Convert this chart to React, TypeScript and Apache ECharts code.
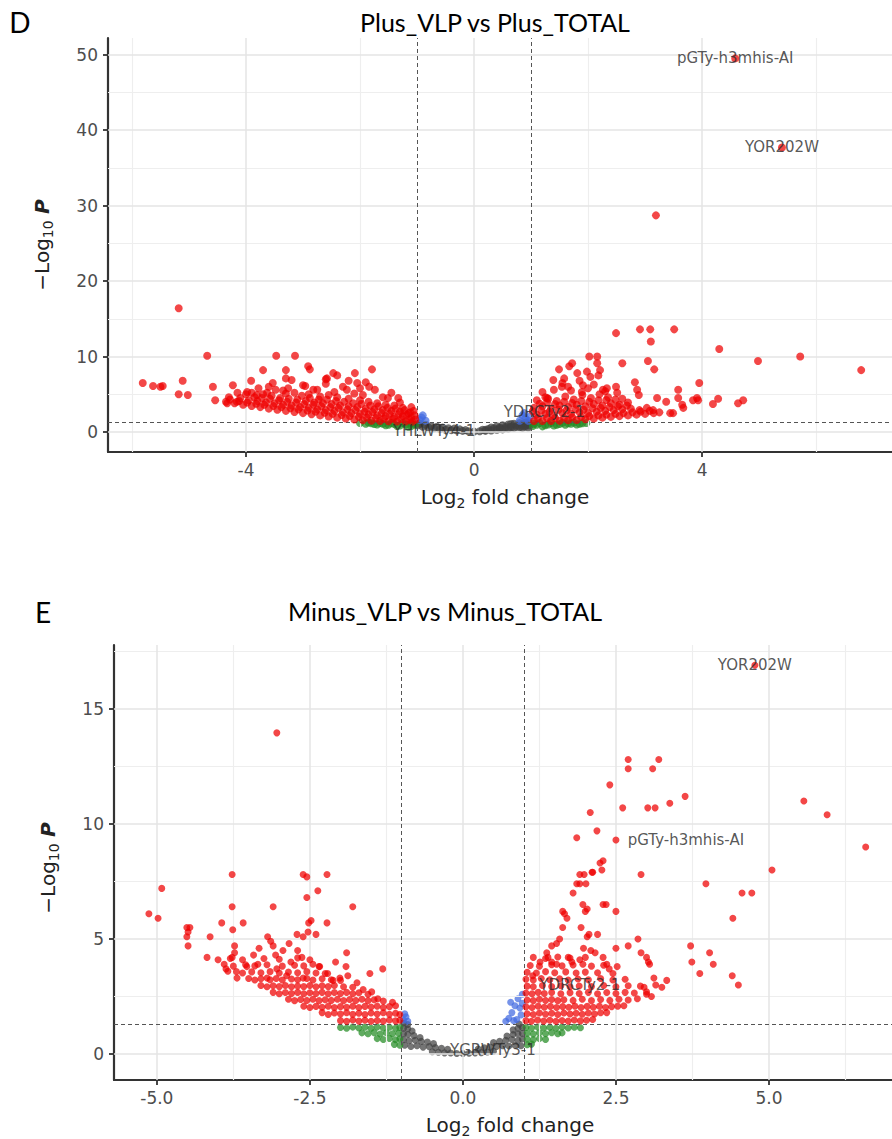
import React, { useEffect, useRef } from "react";
import * as echarts from "echarts";

type Pt = [number, number];

// ---------------- Panel D : Plus_VLP vs Plus_TOTAL ----------------
const D_X_MAJOR = [-4, 0, 4];
const D_X_MINOR = [-6, -2, 2, 6];
const D_Y_MAJOR = [0, 10, 20, 30, 40, 50];
const D_Y_MINOR = [5, 15, 25, 35, 45];

const D_RED: Pt[] = [
  [-5.18, 16.4], [-4.68, 10.1], [-5.81, 6.5], [-5.63, 6.1], [-5.5, 6.0], [-5.46, 6.1], [-5.11, 6.8], [-5.18, 5.0],
  [-5.02, 4.9], [-4.58, 6.0], [-4.54, 4.2], [-4.23, 6.2], [-3.91, 6.8], [-3.7, 8.2], [-3.47, 10.1], [-3.14, 10.1],
  [-3.3, 8.2], [-3.3, 7.1], [-2.91, 8.7], [-2.88, 8.3], [-3.53, 6.5], [-3.26, 5.8], [-2.96, 6.1], [-2.58, 7.1],
  [-2.47, 7.8], [-2.4, 7.5], [-2.09, 7.8], [-1.79, 8.3], [-2.05, 6.5], [-1.84, 6.0], [-1.74, 5.6], [-2.82, 5.6],
  [-2.23, 5.6], [-1.95, 4.9], [-1.51, 4.5], [-1.33, 4.5], [-3.98, 5.3], [-3.81, 4.9], [-3.63, 5.2], [-4.33, 3.8],
  [-4.16, 4.0], [-1.12, 2.6],
  [2.49, 13.1], [2.91, 13.6], [3.09, 13.6], [3.1, 12.0], [3.51, 13.6], [4.3, 11.0], [4.98, 9.4], [5.72, 10.0],
  [6.79, 8.2], [3.05, 9.4], [3.16, 8.3], [2.6, 9.1], [2.02, 10.0], [2.16, 10.0], [2.16, 9.1], [2.21, 8.2],
  [2.18, 7.5], [1.49, 8.3], [1.67, 8.7], [1.72, 9.1], [1.39, 6.9], [1.58, 7.1], [1.81, 7.8], [1.98, 8.0],
  [2.04, 7.3], [2.82, 6.6], [2.86, 5.6], [2.89, 4.9], [3.58, 5.6], [3.95, 6.5], [3.21, 4.5], [3.37, 4.0],
  [3.58, 4.5], [3.65, 3.6], [3.67, 3.2], [3.91, 4.5], [3.93, 4.2], [4.19, 3.7], [4.28, 4.4], [4.63, 3.8],
  [4.72, 4.2], [3.49, 2.5], [3.44, 2.5], [3.84, 4.2], [3.03, 3.2], [3.14, 2.9], [2.49, 6.0], [2.51, 5.2],
  [2.26, 5.6], [2.33, 5.8], [1.91, 6.2], [1.89, 5.3], [1.54, 6.0], [1.65, 6.0], [1.28, 4.5], [1.25, 4.6],
  [3.19, 28.7], [4.58, 49.5], [5.4, 37.7],
];

const D_RED_LEFT_BAND: Pt[] = [
  [-4.35, 4.0], [-4.2, 3.8], [-4.05, 3.6], [-3.9, 3.45], [-3.75, 3.3], [-3.6, 3.1], [-3.45, 2.95], [-3.3, 2.8],
  [-3.15, 2.65], [-3.0, 2.5], [-2.85, 2.35], [-2.7, 2.2], [-2.55, 2.05], [-2.4, 1.9], [-2.25, 1.8], [-2.1, 1.65],
  [-1.95, 1.55], [-1.8, 1.5], [-1.65, 1.45], [-1.5, 1.42], [-1.35, 1.4], [-1.2, 1.38], [-1.08, 1.37],
  [-4.28, 4.3], [-4.12, 4.1], [-3.98, 3.9], [-3.82, 3.75], [-3.68, 3.6], [-3.52, 3.45], [-3.38, 3.3], [-3.22, 3.15],
  [-3.08, 3.0], [-2.92, 2.85], [-2.78, 2.7], [-2.62, 2.55], [-2.48, 2.4], [-2.32, 2.25], [-2.18, 2.12], [-2.02, 2.0],
  [-1.88, 1.92], [-1.72, 1.85], [-1.58, 1.8], [-1.42, 1.75], [-1.28, 1.72], [-1.14, 1.68], [-1.03, 1.65],
  [-4.3, 4.6], [-4.1, 4.5], [-3.95, 4.2], [-3.8, 4.1], [-3.65, 3.9], [-3.5, 3.8], [-3.35, 3.6], [-3.2, 3.5],
  [-3.05, 3.3], [-2.9, 3.2], [-2.75, 3.0], [-2.6, 2.9], [-2.45, 2.8], [-2.3, 2.6], [-2.15, 2.5], [-2.0, 2.4],
  [-1.85, 2.3], [-1.7, 2.2], [-1.55, 2.1], [-1.4, 2.0], [-1.25, 2.1], [-1.1, 1.9],
  [-4.15, 5.2], [-4.0, 5.0], [-3.85, 4.6], [-3.72, 4.5], [-3.58, 4.4], [-3.42, 4.2], [-3.28, 4.0], [-3.12, 3.9],
  [-2.98, 3.7], [-2.82, 3.6], [-2.68, 3.4], [-2.52, 3.3], [-2.38, 3.2], [-2.22, 3.0], [-2.08, 2.9], [-1.92, 2.7],
  [-1.78, 2.65], [-1.62, 2.5], [-1.48, 2.4], [-1.32, 2.35], [-1.18, 2.3], [-1.04, 2.2],
  [-3.9, 5.2], [-3.7, 5.0], [-3.55, 4.8], [-3.4, 4.5], [-3.25, 4.4], [-3.1, 4.3], [-2.95, 4.1], [-2.8, 3.9],
  [-2.65, 3.8], [-2.5, 3.7], [-2.35, 3.5], [-2.2, 3.4], [-2.05, 3.3], [-1.9, 3.1], [-1.75, 3.0], [-1.6, 2.9],
  [-1.45, 2.8], [-1.3, 2.7], [-1.15, 2.5],
  [-3.78, 5.8], [-3.48, 5.6], [-3.3, 5.1], [-3.02, 4.8], [-2.88, 4.5], [-2.72, 4.3], [-2.58, 4.3], [-2.42, 4.1],
  [-2.28, 4.0], [-2.12, 3.8], [-1.98, 3.7], [-1.82, 3.5], [-1.68, 3.4], [-1.52, 3.2], [-1.38, 3.1], [-1.22, 2.9],
  [-1.06, 2.8],
  [-3.6, 6.0], [-3.35, 5.5], [-3.15, 5.2], [-2.9, 5.0], [-2.7, 4.7], [-2.55, 4.9], [-2.4, 4.6], [-2.2, 4.4],
  [-2.0, 4.2], [-1.85, 4.0], [-1.7, 3.8], [-1.55, 3.6], [-1.4, 3.5], [-1.25, 3.2], [-2.75, 5.6], [-2.45, 5.3],
  [-2.1, 5.1], [-1.6, 4.6], [-3.0, 6.2], [-2.6, 6.4], [-2.3, 6.0], [-2.0, 5.8], [-1.9, 6.6], [-2.6, 7.0],
  [-2.2, 6.8], [-3.2, 6.9], [-1.45, 5.2], [-1.3, 3.9], [-1.1, 3.3],
];

const D_RED_RIGHT_BAND: Pt[] = [
  [1.05, 1.45], [1.2, 1.45], [1.35, 1.45], [1.5, 1.5], [1.65, 1.55], [1.8, 1.6], [1.95, 1.7], [2.1, 1.8],
  [2.25, 1.9], [2.4, 2.0], [2.55, 2.1], [2.7, 2.2], [2.85, 2.3], [3.0, 2.4], [3.15, 2.5],
  [1.12, 1.85], [1.28, 1.85], [1.42, 1.85], [1.58, 1.9], [1.72, 1.95], [1.88, 2.0], [2.02, 2.1], [2.18, 2.2],
  [2.32, 2.3], [2.48, 2.4], [2.62, 2.5], [2.78, 2.6], [2.92, 2.7], [3.08, 2.8], [3.25, 2.6],
  [1.1, 2.3], [1.25, 2.4], [1.4, 2.2], [1.55, 2.5], [1.7, 2.4], [1.85, 2.6], [2.0, 2.5], [2.15, 2.7],
  [2.3, 2.8], [2.45, 2.9], [2.6, 3.0], [2.75, 3.1], [2.9, 2.9],
  [1.03, 2.75], [1.18, 2.85], [1.32, 2.7], [1.48, 2.95], [1.62, 2.85], [1.78, 3.0], [1.92, 2.95], [2.08, 3.15],
  [2.22, 3.2], [2.38, 3.3], [2.52, 3.4], [2.68, 3.5],
  [1.05, 3.2], [1.2, 3.4], [1.35, 3.1], [1.5, 3.5], [1.65, 3.3], [1.8, 3.6], [1.95, 3.4], [2.1, 3.7],
  [2.25, 3.5], [2.4, 3.8], [2.55, 3.6], [2.7, 3.9],
  [1.15, 3.75], [1.28, 3.9], [1.42, 3.7], [1.58, 4.0], [1.72, 3.85], [1.88, 4.1], [2.02, 4.0], [2.18, 4.2],
  [2.32, 4.25], [2.48, 4.3],
  [1.1, 4.2], [1.3, 4.4], [1.45, 4.1], [1.6, 4.7], [1.75, 4.3], [1.9, 4.9], [2.05, 4.5], [2.2, 5.0],
  [2.35, 4.6], [2.6, 4.4], [1.2, 5.3], [1.4, 5.6], [1.7, 5.5], [2.0, 5.8], [2.3, 5.4], [1.55, 6.5],
  [1.85, 6.8], [2.1, 6.3],
];

const D_GREEN: Pt[] = [
  [-2.0, 1.2], [-1.9, 1.1], [-1.8, 1.15], [-1.7, 1.0], [-1.6, 1.1], [-1.5, 0.95], [-1.4, 1.05], [-1.3, 0.85],
  [-1.2, 1.0], [-1.1, 0.8], [-1.03, 0.95], [-1.85, 1.25], [-1.65, 1.2], [-1.45, 1.2], [-1.25, 1.2], [-1.1, 1.15],
  [-1.55, 0.9], [-1.35, 0.8], [-1.15, 0.7], [-1.75, 1.05],
  [1.03, 0.8], [1.1, 0.95], [1.2, 0.75], [1.3, 1.0], [1.4, 0.85], [1.5, 1.05], [1.6, 0.95], [1.7, 1.1],
  [1.8, 1.0], [1.9, 1.15], [1.97, 1.2], [1.15, 1.2], [1.35, 1.2], [1.55, 1.22], [1.75, 1.25], [1.25, 0.9],
  [1.45, 0.95], [1.65, 1.15], [1.85, 1.1], [1.05, 1.1],
];

const D_GREY: Pt[] = [
  [-0.98, 0.9], [-0.9, 0.7], [-0.8, 0.6], [-0.7, 0.5], [-0.6, 0.4], [-0.5, 0.3], [-0.4, 0.25], [-0.3, 0.2],
  [-0.2, 0.15], [-0.1, 0.1], [0, 0.05], [0.1, 0.1], [0.2, 0.15], [0.3, 0.2], [0.4, 0.3], [0.5, 0.35],
  [0.6, 0.45], [0.7, 0.55], [0.8, 0.65], [0.9, 0.75], [0.97, 0.85], [-0.95, 1.1], [-0.85, 0.95], [-0.75, 0.8],
  [-0.65, 0.7], [-0.55, 0.6], [-0.45, 0.5], [-0.35, 0.45], [0.35, 0.5], [0.45, 0.6], [0.55, 0.7], [0.65, 0.8],
  [0.75, 0.9], [0.85, 1.0], [0.95, 1.15], [0.6, 1.0], [0.7, 1.1], [0.8, 1.2], [0.9, 1.25], [0.5, 0.9],
  [0.25, 0.4], [0.15, 0.3], [-0.25, 0.35], [-0.15, 0.25],
  [0.3, 0.6], [0.4, 0.75], [0.55, 0.5], [0.65, 0.6], [0.75, 0.7], [0.85, 0.8], [0.92, 0.95], [0.65, 1.05],
  [0.45, 0.45], [0.2, 0.3], [0.95, 0.6], [0.85, 0.55],
];

const D_BLUE: Pt[] = [
  [-0.9, 2.2], [-0.95, 1.6], [-0.85, 1.5], [-0.92, 1.9], [0.85, 2.2], [0.9, 1.8], [0.95, 1.5], [0.8, 1.5],
  [0.88, 2.5], [0.98, 2.0],
];

const D_LABEL_NAMES = ["pGTy-h3mhis-AI", "YOR202W", "YDRCTy2-1", "YHLWTy4-1"];
const D_LABEL_POS: Pt[] = [[4.58, 49.5], [5.4, 37.7], [1.23, 2.65], [-0.7, 0.13]];
const D_LABEL_SHIFT = [0, 0, 0, 0];

// ---------------- Panel E : Minus_VLP vs Minus_TOTAL ----------------
const E_X_MAJOR = [-5, -2.5, 0, 2.5, 5];
const E_X_MINOR = [-3.75, -1.25, 1.25, 3.75, 6.25];
const E_Y_MAJOR = [0, 5, 10, 15];
const E_Y_MINOR = [2.5, 7.5, 12.5, 17.5];

const E_RED: Pt[] = [
  [-3.04, 13.96], [-3.77, 7.8], [-2.61, 7.8], [-2.55, 7.7], [-2.22, 7.8], [-4.92, 7.2], [-2.37, 7.1], [-5.13, 6.1],
  [-4.98, 5.9], [-3.77, 6.4], [-3.1, 6.4], [-2.55, 6.8], [-1.8, 6.4], [-3.94, 5.7], [-3.76, 5.4], [-3.59, 5.7],
  [-2.48, 5.8], [-2.52, 5.7], [-2.22, 5.7], [-4.51, 5.5], [-4.46, 5.5], [-4.49, 5.3], [-4.51, 5.1], [-4.49, 4.7],
  [-4.13, 5.1], [-4.18, 4.2], [-2.71, 5.2], [-2.61, 5.1], [-2.53, 5.3], [-2.4, 5.2], [-3.19, 5.1], [-3.14, 4.9],
  [-3.1, 4.7], [-2.84, 4.8], [-2.7, 4.5], [-2.94, 4.5], [-3.06, 4.3], [-3.33, 4.6], [-3.42, 4.3], [-3.35, 3.9],
  [-3.73, 4.7], [-3.73, 4.4], [-3.77, 4.2], [-3.87, 3.7], [-3.84, 3.6], [-3.69, 3.3], [-3.53, 3.8], [-1.9, 4.4],
  [-2.08, 4.0], [-1.31, 3.7], [-1.52, 3.5], [-1.91, 3.8], [-1.88, 3.4], [-2.63, 4.2], [-2.81, 4.0], [-2.45, 3.9],
  [-2.34, 3.8], [-3.04, 3.7], [-3.2, 3.3], [-2.88, 3.4], [-2.61, 3.3], [-2.21, 3.5], [-2.12, 3.2], [-2.01, 3.3],
  [-1.73, 3.1], [-1.63, 2.8], [-1.49, 2.7], [-1.39, 2.4],
  [4.77, 16.9], [2.7, 12.8], [3.2, 12.8], [2.7, 12.4], [3.1, 12.4], [2.4, 11.7], [3.63, 11.2], [3.38, 10.9],
  [2.61, 10.7], [3.02, 10.7], [3.14, 10.7], [2.08, 10.5], [2.19, 9.7], [1.86, 9.4], [2.5, 9.3], [5.57, 11.0],
  [5.95, 10.4], [6.58, 9.0], [5.05, 8.0], [2.24, 8.3], [2.29, 8.4], [2.27, 8.0], [1.91, 7.8], [1.98, 7.8],
  [2.11, 7.9], [2.12, 7.9], [2.91, 7.8], [1.86, 7.4], [1.91, 7.4], [2.01, 7.4], [3.97, 7.4], [4.56, 7.0],
  [4.72, 7.0], [1.8, 7.0], [1.96, 6.5], [2.03, 6.3], [2.0, 6.2], [2.29, 6.5], [2.34, 6.5], [2.5, 6.2],
  [1.63, 6.2], [1.66, 6.1], [1.7, 5.9], [4.41, 5.9], [1.63, 5.5], [1.93, 5.5], [2.06, 5.2], [2.2, 5.2],
  [2.03, 5.1], [1.58, 5.0], [1.53, 4.8], [1.45, 4.7], [2.86, 5.0], [2.7, 4.7], [2.5, 4.6], [3.72, 4.7],
  [1.97, 4.6], [2.09, 4.5], [2.16, 4.4], [2.91, 4.4], [3.0, 4.2], [3.03, 4.0], [3.05, 3.9], [4.03, 4.4],
  [4.09, 3.9], [3.74, 4.0], [3.87, 3.5], [1.26, 4.0], [1.37, 4.4], [1.39, 4.2], [1.45, 4.0], [1.53, 3.9],
  [1.72, 4.2], [1.78, 4.0], [1.91, 4.1], [1.96, 3.9], [2.29, 4.2], [2.35, 3.9], [2.52, 3.8], [2.39, 3.7],
  [3.12, 3.3], [3.33, 3.2], [3.25, 2.9], [2.96, 2.9], [3.0, 2.6], [3.08, 2.5], [1.14, 3.4], [4.4, 3.4],
  [4.5, 3.0],
];

const E_RED_LEFT_BAND: Pt[] = [
  [-2.0, 1.45], [-1.9, 1.42], [-1.8, 1.48], [-1.7, 1.43], [-1.6, 1.47], [-1.5, 1.42], [-1.4, 1.46], [-1.3, 1.43],
  [-1.2, 1.48], [-1.1, 1.44], [-1.03, 1.47],
  [-2.3, 1.8], [-2.2, 1.72], [-2.1, 1.78], [-2.0, 1.74], [-1.9, 1.79], [-1.8, 1.73], [-1.7, 1.77], [-1.6, 1.72],
  [-1.5, 1.78], [-1.4, 1.74], [-1.3, 1.79], [-1.2, 1.73], [-1.1, 1.77], [-1.03, 1.72],
  [-2.6, 2.08], [-2.5, 2.02], [-2.4, 2.07], [-2.3, 2.03], [-2.2, 2.08], [-2.1, 2.02], [-2.0, 2.06], [-1.9, 2.03],
  [-1.8, 2.08], [-1.7, 2.02], [-1.6, 2.07], [-1.5, 2.04], [-1.4, 2.08], [-1.3, 2.02], [-1.2, 2.06], [-1.1, 2.1],
  [-2.85, 2.38], [-2.75, 2.32], [-2.65, 2.37], [-2.55, 2.33], [-2.45, 2.38], [-2.35, 2.32], [-2.25, 2.36],
  [-2.15, 2.33], [-2.05, 2.38], [-1.95, 2.32], [-1.85, 2.37], [-1.75, 2.33], [-1.65, 2.38], [-1.55, 2.32],
  [-1.45, 2.36], [-1.3, 2.3], [-1.15, 2.25],
  [-3.1, 2.68], [-3.0, 2.62], [-2.9, 2.67], [-2.8, 2.63], [-2.7, 2.68], [-2.6, 2.62], [-2.5, 2.66], [-2.4, 2.63],
  [-2.3, 2.68], [-2.2, 2.62], [-2.1, 2.67], [-2.0, 2.63], [-1.9, 2.68], [-1.8, 2.62], [-1.7, 2.66], [-1.55, 2.6],
  [-3.3, 2.98], [-3.2, 2.92], [-3.1, 2.97], [-3.0, 2.93], [-2.9, 2.98], [-2.8, 2.92], [-2.7, 2.96], [-2.6, 2.93],
  [-2.5, 2.98], [-2.4, 2.92], [-2.3, 2.97], [-2.2, 2.93], [-2.1, 2.98], [-1.95, 2.92], [-1.8, 2.9],
  [-3.5, 3.28], [-3.4, 3.22], [-3.3, 3.27], [-3.15, 3.23], [-3.05, 3.28], [-2.95, 3.22], [-2.8, 3.26],
  [-2.7, 3.23], [-2.55, 3.28], [-2.45, 3.22], [-2.3, 3.27], [-2.15, 3.23], [-2.0, 3.2],
  [-3.7, 3.58], [-3.6, 3.52], [-3.45, 3.57], [-3.3, 3.53], [-3.15, 3.58], [-3.0, 3.52], [-2.85, 3.56],
  [-2.7, 3.53], [-2.55, 3.58], [-2.4, 3.52], [-2.25, 3.5],
  [-3.9, 3.9], [-3.75, 3.82], [-3.55, 3.88], [-3.4, 3.83], [-3.2, 3.88], [-2.95, 3.82], [-2.75, 3.86],
  [-2.6, 3.83], [-2.35, 3.8],
  [-4.0, 4.1], [-3.8, 4.15], [-3.6, 4.1], [-3.25, 4.15], [-3.0, 4.12], [-2.7, 4.18], [-2.5, 4.1],
];

const E_RED_RIGHT_BAND: Pt[] = [
  [1.03, 1.45], [1.12, 1.42], [1.22, 1.48], [1.32, 1.43], [1.42, 1.47], [1.52, 1.42], [1.62, 1.46], [1.72, 1.43],
  [1.82, 1.48], [1.92, 1.44], [2.02, 1.47], [2.12, 1.5],
  [1.05, 1.75], [1.15, 1.72], [1.25, 1.78], [1.35, 1.73], [1.45, 1.77], [1.55, 1.72], [1.65, 1.78], [1.75, 1.74],
  [1.85, 1.77], [1.95, 1.73], [2.05, 1.78], [2.15, 1.74], [2.25, 1.79], [2.35, 1.8],
  [1.03, 2.05], [1.13, 2.02], [1.23, 2.08], [1.33, 2.03], [1.43, 2.07], [1.53, 2.02], [1.63, 2.06], [1.73, 2.03],
  [1.83, 2.08], [1.93, 2.02], [2.03, 2.07], [2.13, 2.03], [2.23, 2.08], [2.33, 2.02], [2.43, 2.06], [2.53, 2.08],
  [2.63, 2.1],
  [1.05, 2.35], [1.15, 2.32], [1.25, 2.38], [1.35, 2.33], [1.45, 2.37], [1.55, 2.32], [1.65, 2.36], [1.8, 2.33],
  [1.95, 2.38], [2.1, 2.32], [2.25, 2.37], [2.4, 2.33], [2.55, 2.38], [2.7, 2.35], [2.85, 2.4],
  [1.03, 2.65], [1.13, 2.62], [1.23, 2.68], [1.33, 2.63], [1.45, 2.67], [1.6, 2.62], [1.75, 2.66], [1.9, 2.63],
  [2.05, 2.68], [2.2, 2.62], [2.35, 2.67], [2.5, 2.63], [2.65, 2.68], [2.8, 2.65], [3.0, 2.7],
  [1.05, 2.95], [1.15, 2.92], [1.3, 2.98], [1.45, 2.93], [1.6, 2.97], [1.75, 2.92], [1.9, 2.96], [2.1, 2.93],
  [2.3, 2.98], [2.5, 2.92], [2.7, 2.97], [2.9, 2.95], [3.15, 3.0],
  [1.03, 3.25], [1.15, 3.22], [1.28, 3.28], [1.42, 3.23], [1.58, 3.27], [1.72, 3.22], [1.88, 3.26], [2.05, 3.23],
  [2.25, 3.28], [2.45, 3.22], [2.65, 3.25],
  [1.05, 3.55], [1.2, 3.52], [1.35, 3.58], [1.5, 3.53], [1.68, 3.57], [1.85, 3.52], [2.0, 3.56], [2.2, 3.53],
  [2.45, 3.5],
  [1.1, 3.85], [1.25, 3.82], [1.45, 3.88], [1.62, 3.83], [1.8, 3.87], [2.1, 3.82], [2.3, 3.86],
  [1.15, 4.2], [1.35, 4.15], [1.55, 4.22], [1.75, 4.17], [2.0, 4.2],
];

const E_GREEN: Pt[] = [
  [-2.0, 1.15], [-1.9, 1.12], [-1.8, 1.17], [-1.7, 1.13], [-1.6, 1.16], [-1.5, 1.12], [-1.4, 1.17], [-1.3, 1.13],
  [-1.2, 1.16], [-1.1, 1.12], [-1.03, 1.15],
  [-1.65, 0.92], [-1.55, 0.88], [-1.45, 0.93], [-1.35, 0.87], [-1.25, 0.92], [-1.15, 0.88], [-1.05, 0.9],
  [-1.4, 0.67], [-1.3, 0.63], [-1.2, 0.68], [-1.1, 0.62], [-1.03, 0.66],
  [-1.12, 0.42], [-1.03, 0.38],
  [1.03, 1.15], [1.12, 1.12], [1.22, 1.17], [1.32, 1.13], [1.42, 1.16], [1.52, 1.12], [1.62, 1.17], [1.72, 1.13],
  [1.82, 1.16], [1.92, 1.14],
  [1.05, 0.9], [1.15, 0.87], [1.25, 0.92], [1.35, 0.88], [1.45, 0.93], [1.55, 0.88], [1.62, 0.92],
  [1.05, 0.65], [1.15, 0.62], [1.25, 0.67], [1.35, 0.63],
  [1.05, 0.4], [1.12, 0.43],
];

const E_GREY: Pt[] = [
  [-0.5, 0.1], [-0.4, 0.08], [-0.3, 0.05], [-0.2, 0.04], [-0.1, 0.02], [0, 0.02], [0.1, 0.03], [0.2, 0.05],
  [0.3, 0.06], [0.4, 0.09], [0.5, 0.12],
  [-0.95, 0.38], [-0.85, 0.33], [-0.75, 0.36], [-0.65, 0.3], [-0.55, 0.32], [-0.45, 0.28], [-0.35, 0.25],
  [-0.25, 0.2], [0.25, 0.22], [0.35, 0.27], [0.45, 0.3], [0.55, 0.33], [0.65, 0.36], [0.75, 0.35], [0.85, 0.38],
  [0.95, 0.36],
  [-0.97, 0.62], [-0.88, 0.58], [-0.78, 0.6], [-0.68, 0.55], [-0.58, 0.52], [-0.48, 0.45], [0.5, 0.5], [0.6, 0.55],
  [0.7, 0.6], [0.8, 0.63], [0.9, 0.6], [0.97, 0.65],
  [-0.97, 0.88], [-0.9, 0.85], [-0.8, 0.8], [-0.7, 0.72], [0.72, 0.78], [0.82, 0.85], [0.9, 0.88], [0.97, 0.9],
  [-0.97, 1.12], [-0.9, 1.1], [-0.83, 1.0], [0.82, 1.05], [0.9, 1.12], [0.97, 1.15],
  [-0.97, 1.35], [-0.9, 1.28], [0.92, 1.3],
];

const E_BLUE: Pt[] = [
  [-0.97, 1.48], [-0.93, 1.62], [-0.9, 1.42], [-0.95, 1.75], [0.7, 1.42], [0.75, 1.55], [0.8, 1.8], [0.85, 2.1],
  [0.9, 2.4], [0.95, 1.7], [0.88, 1.5], [0.93, 2.0], [0.97, 2.6], [0.78, 2.25], [0.83, 1.45], [0.97, 2.2],
];

const E_LABEL_NAMES = ["YOR202W", "pGTy-h3mhis-AI", "YDRCTy2-1", "YGRWTy3-1"];
const E_LABEL_POS: Pt[] = [[4.77, 16.9], [2.5, 9.3], [1.91, 3.0], [0.49, 0.17]];
const E_LABEL_SHIFT = [0, 70, 0, 0];

// ---------------- helpers ----------------
const FONT = "DejaVu Sans";
const COL = { grey: "#404040", green: "#228b22", blue: "#4169e1", red: "#ee0000" };

function gridLineSeries(gi: number, xMaj: number[], xMin: number[], yMaj: number[], yMin: number[]) {
  const maj = { color: "#e4e4e4", width: 1.5, type: "solid" };
  const min = { color: "#eeeeee", width: 1.2, type: "solid" };
  return {
    type: "scatter",
    xAxisIndex: gi,
    yAxisIndex: gi,
    data: [],
    silent: true,
    z: 1,
    markLine: {
      silent: true,
      symbol: "none",
      animation: false,
      label: { show: false },
      data: [
        ...xMin.map((v) => ({ xAxis: v, lineStyle: min })),
        ...yMin.map((v) => ({ yAxis: v, lineStyle: min })),
        ...xMaj.map((v) => ({ xAxis: v, lineStyle: maj })),
        ...yMaj.map((v) => ({ yAxis: v, lineStyle: maj })),
      ],
    },
  };
}

function cutoffSeries(gi: number) {
  return {
    type: "scatter",
    xAxisIndex: gi,
    yAxisIndex: gi,
    data: [],
    silent: true,
    z: 6,
    markLine: {
      silent: true,
      symbol: "none",
      animation: false,
      label: { show: false },
      lineStyle: { color: "#555", width: 1, type: [4, 3] },
      data: [{ xAxis: -1 }, { xAxis: 1 }, { yAxis: 1.3 }],
    },
  };
}

function pointSeries(gi: number, data: Pt[], color: string, size: number, z: number) {
  return {
    type: "scatter",
    xAxisIndex: gi,
    yAxisIndex: gi,
    data,
    symbol: "circle",
    symbolSize: size,
    silent: true,
    z,
    itemStyle: { color, opacity: 0.72, borderWidth: 0 },
  };
}

function labelSeries(gi: number, names: string[], pos: Pt[], shift: number[]) {
  return {
    type: "scatter",
    xAxisIndex: gi,
    yAxisIndex: gi,
    symbolSize: 1,
    silent: true,
    z: 8,
    itemStyle: { color: "rgba(0,0,0,0)" },
    label: {
      show: true,
      position: "inside",
      formatter: "{b}",
      color: "#2b2b2b",
      fontSize: 15,
      fontFamily: FONT,
    },
    data: names.map((n, i) => ({ name: n, value: pos[i], label: { offset: [shift[i], 0] } })),
  };
}

function xAxisCfg(gi: number, min: number, max: number, ticks: number[], fmt: (v: number) => string) {
  return {
    type: "value",
    gridIndex: gi,
    min,
    max,
    axisLine: { show: true, onZero: false, lineStyle: { color: "#333", width: 2.2 } },
    axisTick: { show: true, customValues: ticks, length: 5, lineStyle: { color: "#333", width: 1.8 } },
    axisLabel: { customValues: ticks, formatter: fmt, color: "#4d4d4d", fontSize: 17, fontFamily: FONT, margin: 9 },
    splitLine: { show: false },
  };
}

function yAxisCfg(gi: number, min: number, max: number, ticks: number[]) {
  return {
    type: "value",
    gridIndex: gi,
    min,
    max,
    axisLine: { show: true, onZero: false, lineStyle: { color: "#333", width: 2.2 } },
    axisTick: { show: true, customValues: ticks, length: 5, lineStyle: { color: "#333", width: 1.8 } },
    axisLabel: { customValues: ticks, formatter: (v: number) => String(v), color: "#4d4d4d", fontSize: 17, fontFamily: FONT, margin: 10 },
    splitLine: { show: false },
  };
}

const axisRich = {
  a: { fontSize: 20, fontFamily: FONT, fill: "#222" },
  s: { fontSize: 14, fontFamily: FONT, fill: "#222", padding: [11, 0, 0, 0] },
  p: { fontSize: 20, fontFamily: FONT, fill: "#222", fontStyle: "italic", fontWeight: "bold" },
};

function textEl(x: number, y: number, text: string, size: number) {
  return {
    type: "text",
    x,
    y,
    silent: true,
    style: { text, fontSize: size, fontFamily: "Lato", fill: "#000", align: "center", verticalAlign: "middle" },
  };
}

function richEl(x: number, y: number, text: string, rotation = 0) {
  return {
    type: "text",
    x,
    y,
    rotation,
    silent: true,
    style: { text, rich: axisRich, align: "center", verticalAlign: "middle" },
  };
}

export default function App() {
  const ref = useRef<HTMLDivElement>(null);
  useEffect(() => {
    if (!ref.current) return;
    const chart = echarts.init(ref.current, undefined, { renderer: "svg" });
    const option: any = {
      animation: false,
      backgroundColor: "#ffffff",
      grid: [
        { left: 108, top: 38, width: 784, height: 414 },
        { left: 114, top: 645, width: 778, height: 435 },
      ],
      xAxis: [
        xAxisCfg(0, -6.42, 7.33, D_X_MAJOR, (v) => String(v)),
        xAxisCfg(1, -5.7, 7.01, E_X_MAJOR, (v) => v.toFixed(1)),
      ],
      yAxis: [yAxisCfg(0, -2.65, 52.2, D_Y_MAJOR), yAxisCfg(1, -1.13, 17.78, E_Y_MAJOR)],
      series: [
        gridLineSeries(0, D_X_MAJOR, D_X_MINOR, D_Y_MAJOR, D_Y_MINOR),
        pointSeries(0, D_GREY, COL.grey, 8, 2),
        pointSeries(0, D_GREEN, COL.green, 8, 3),
        pointSeries(0, D_BLUE, COL.blue, 8, 4),
        pointSeries(0, D_RED_LEFT_BAND, COL.red, 8, 5),
        pointSeries(0, D_RED_RIGHT_BAND, COL.red, 8, 5),
        pointSeries(0, D_RED, COL.red, 8, 5),
        cutoffSeries(0),
        labelSeries(0, D_LABEL_NAMES, D_LABEL_POS, D_LABEL_SHIFT),
        gridLineSeries(1, E_X_MAJOR, E_X_MINOR, E_Y_MAJOR, E_Y_MINOR),
        pointSeries(1, E_GREY, COL.grey, 7, 2),
        pointSeries(1, E_GREEN, COL.green, 7, 3),
        pointSeries(1, E_BLUE, COL.blue, 7, 4),
        pointSeries(1, E_RED_LEFT_BAND, COL.red, 7, 5),
        pointSeries(1, E_RED_RIGHT_BAND, COL.red, 7, 5),
        pointSeries(1, E_RED, COL.red, 7, 5),
        cutoffSeries(1),
        labelSeries(1, E_LABEL_NAMES, E_LABEL_POS, E_LABEL_SHIFT),
      ],
      graphic: [
        textEl(20, 22, "D", 28),
        textEl(495, 22, "Plus_VLP vs Plus_TOTAL", 25),
        textEl(43, 612, "E", 28),
        textEl(445, 611, "Minus_VLP vs Minus_TOTAL", 25),
        richEl(42, 245, "{a|−Log}{s|10}{a| }{p|P}", Math.PI / 2),
        richEl(505, 497, "{a|Log}{s|2}{a| fold change}"),
        richEl(48, 868, "{a|−Log}{s|10}{a| }{p|P}", Math.PI / 2),
        richEl(510, 1125, "{a|Log}{s|2}{a| fold change}"),
      ],
    };
    chart.setOption(option);
    return () => chart.dispose();
  }, []);
  return (
    <div
      ref={ref}
      style={{ position: "absolute", left: 0, top: 0, width: 892, height: 1139, background: "#fff" }}
    />
  );
}
